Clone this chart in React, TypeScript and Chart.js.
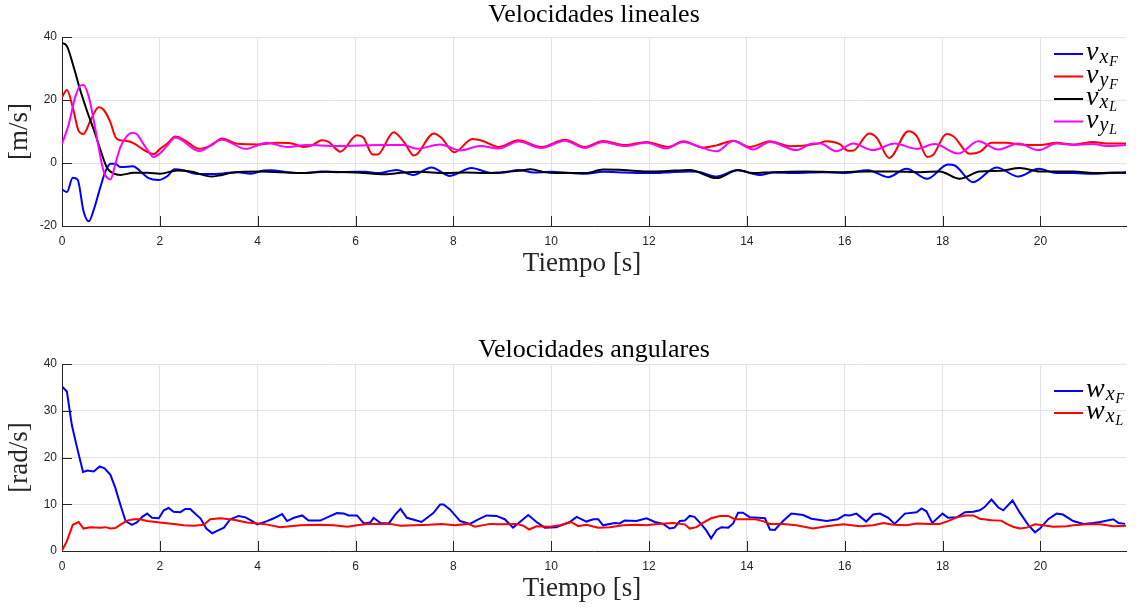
import React, { useEffect, useRef } from 'react';
import { Chart, registerables } from 'chart.js';

Chart.register(...registerables);

// ---------- data ----------
const xTickValues = [0, 2, 4, 6, 8, 10, 12, 14, 16, 18, 20];
const xMax = 21.75;
const yTicksTop = [-20, 0, 20, 40];
const yTicksBottom = [0, 10, 20, 30, 40];

type P = [number, number];

// Velocidades lineales
const vxF: P[] = [[0,-8.4],[0.1,-9.2],[0.22,-4.7],[0.32,-5.3],[0.44,-15.3],[0.55,-18.5],[0.65,-14.8],[0.78,-7.9],[0.89,-2.6],[0.99,-0.2],[1.09,-0.2],[1.19,-1.3],[1.33,-1.2],[1.45,-1.0],[1.6,-2.6],[1.76,-4.7],[1.97,-5.4],[2.15,-4.2],[2.3,-2.0],[2.5,-2.4],[2.73,-3.4],[3.0,-3.5],[3.3,-3.3],[3.59,-2.9],[3.86,-3.4],[4.12,-2.4],[4.27,-2.3],[4.6,-2.9],[5.0,-3.2],[5.3,-2.7],[5.6,-2.9],[6.0,-2.8],[6.2,-2.8],[6.46,-3.2],[6.84,-2.2],[7.18,-3.8],[7.55,-1.4],[7.93,-4.1],[8.37,-1.6],[8.78,-3.2],[9.05,-3.0],[9.33,-2.2],[9.65,-3.0],[10.0,-2.8],[10.4,-3.2],[10.7,-3.4],[11.06,-2.8],[11.5,-3.0],[11.95,-3.2],[12.12,-3.2],[12.45,-2.9],[12.83,-2.7],[13.0,-2.8],[13.38,-4.3],[13.8,-2.3],[14.26,-3.8],[14.55,-3.0],[15.0,-3.2],[15.55,-2.9],[15.97,-3.2],[16.48,-2.3],[16.89,-4.5],[17.26,-1.8],[17.69,-5.0],[18.11,-0.5],[18.25,-0.8],[18.62,-6.1],[19.1,-1.4],[19.55,-4.3],[19.96,-1.8],[20.33,-3.2],[20.67,-3.2],[21.08,-3.4],[21.4,-3.2],[21.75,-3.2]];

const vyF: P[] = [[0,20.9],[0.1,23.2],[0.22,17.7],[0.34,10.2],[0.44,9.2],[0.58,13.4],[0.75,17.7],[0.85,16.9],[0.99,12.9],[1.09,8.3],[1.19,7.2],[1.33,7.0],[1.47,6.2],[1.6,4.9],[1.77,3.3],[1.87,2.8],[2.0,4.4],[2.15,6.2],[2.32,8.4],[2.55,6.8],[2.8,4.5],[3.05,5.6],[3.27,7.8],[3.58,6.1],[4.05,5.9],[4.4,6.4],[4.67,6.3],[4.94,5.1],[5.1,5.5],[5.31,7.2],[5.45,6.7],[5.69,3.6],[6.03,8.8],[6.16,8.1],[6.35,2.7],[6.45,2.7],[6.78,9.8],[7.0,6.5],[7.19,2.4],[7.25,2.7],[7.6,9.4],[7.75,8.1],[8.02,3.4],[8.39,7.6],[8.6,7.0],[8.92,5.1],[9.33,7.2],[9.8,5.1],[10.28,7.4],[10.69,5.1],[11.06,7.0],[11.5,5.7],[11.95,6.7],[12.39,5.1],[12.7,6.9],[13.1,4.9],[13.38,5.6],[13.72,7.1],[14.06,5.1],[14.47,6.9],[14.88,5.3],[15.43,6.1],[15.63,6.9],[15.9,6.0],[16.07,3.9],[16.17,3.9],[16.5,9.4],[16.65,8.1],[16.91,1.6],[17.3,10.1],[17.47,8.6],[17.69,1.9],[17.81,2.6],[18.08,9.2],[18.22,8.5],[18.56,2.9],[18.77,3.6],[19.0,6.4],[19.3,6.4],[19.58,5.9],[19.99,5.7],[20.33,6.4],[20.67,5.9],[21.08,6.7],[21.35,6.2],[21.75,6.2]];

const vxL: P[] = [[0,38.1],[0.1,37.1],[0.24,30.4],[0.375,23],[0.51,16.6],[0.68,9.2],[0.78,4.4],[0.92,-1.5],[1.06,-3.4],[1.19,-3.8],[1.47,-3.1],[1.75,-3.1],[2.0,-3.4],[2.35,-2.4],[2.63,-2.7],[3.06,-4.3],[3.2,-4.0],[3.5,-3.0],[4.05,-2.7],[4.86,-3.2],[5.4,-2.8],[6.0,-3.0],[6.6,-3.6],[7.0,-3.0],[7.29,-2.8],[7.84,-3.2],[8.25,-3.0],[8.66,-3.2],[9.0,-2.9],[9.33,-2.5],[9.58,-2.0],[9.85,-2.9],[10.1,-3.2],[10.7,-3.2],[11.06,-2.1],[11.47,-2.2],[11.95,-2.7],[12.3,-2.6],[12.83,-2.2],[13.38,-4.8],[13.82,-2.2],[14.12,-3.2],[14.53,-2.9],[15.2,-2.7],[15.9,-2.9],[16.44,-2.7],[17.0,-2.7],[17.54,-2.9],[17.94,-2.7],[18.35,-5.0],[18.76,-2.7],[19.17,-2.5],[19.58,-1.6],[19.99,-2.7],[20.67,-2.7],[21.08,-3.2],[21.75,-2.9]];

const vyL: P[] = [[0,6.0],[0.14,12.4],[0.27,20.9],[0.375,24.6],[0.44,24.8],[0.55,20.9],[0.65,13.4],[0.75,4.9],[0.85,-2.6],[0.99,-5.2],[1.09,-0.4],[1.19,4.9],[1.33,8.6],[1.43,9.6],[1.53,9.1],[1.67,5.9],[1.77,3.6],[1.87,1.9],[2.0,3.0],[2.15,5.5],[2.32,8.1],[2.8,3.8],[3.27,7.4],[3.75,4.5],[4.19,6.4],[4.6,5.1],[5.01,5.7],[5.6,5.4],[6.57,5.7],[6.98,5.7],[7.25,4.5],[7.73,5.9],[8.14,4.0],[8.55,5.4],[8.92,4.6],[9.33,6.8],[9.8,4.8],[10.28,7.1],[10.69,4.8],[11.06,6.7],[11.5,5.4],[11.95,6.4],[12.35,4.6],[12.7,6.7],[13.04,5.1],[13.38,3.7],[13.72,7.0],[14.13,4.3],[14.47,6.7],[15.01,4.1],[15.35,6.2],[15.5,6.2],[15.83,3.7],[16.17,6.2],[16.58,4.1],[17.02,6.2],[17.47,4.5],[17.84,6.0],[18.32,3.0],[18.73,6.9],[19.14,4.3],[19.55,6.2],[19.96,4.1],[20.33,6.2],[20.67,5.7],[21.08,6.0],[21.35,5.4],[21.75,5.7]];

// Velocidades angulares
const wxF: P[] = [[0,35.2],[0.1,34.1],[0.2,27],[0.31,22],[0.43,16.9],[0.52,17.2],[0.65,17.0],[0.77,18.1],[0.87,17.7],[0.99,16.3],[1.09,13.5],[1.19,10],[1.3,6.4],[1.43,5.6],[1.53,6.1],[1.64,7.3],[1.74,8.0],[1.84,7.1],[1.98,7.0],[2.08,8.7],[2.18,9.2],[2.28,8.4],[2.42,8.3],[2.52,9.0],[2.62,9.0],[2.73,7.9],[2.83,7.0],[2.95,4.8],[3.07,3.8],[3.17,4.3],[3.31,5.0],[3.44,6.8],[3.61,7.5],[3.75,7.2],[3.89,6.4],[3.99,5.7],[4.19,6.4],[4.33,7.0],[4.5,7.9],[4.6,6.4],[4.74,7.1],[4.91,7.6],[5.04,6.5],[5.28,6.5],[5.49,7.5],[5.62,8.1],[5.76,8.0],[5.86,7.6],[6.03,7.6],[6.17,5.9],[6.3,6.1],[6.37,7.1],[6.51,6.0],[6.68,5.9],[6.82,7.9],[6.92,9.0],[7.05,7.1],[7.35,6.2],[7.59,8.1],[7.73,9.95],[7.8,9.95],[7.93,8.9],[8.14,6.4],[8.34,5.8],[8.48,6.6],[8.68,7.6],[8.88,7.5],[9.05,6.8],[9.22,5.0],[9.36,6.2],[9.53,7.7],[9.7,6.2],[9.87,5.0],[10.1,5.1],[10.38,6.2],[10.52,7.3],[10.72,6.3],[10.86,6.8],[10.96,6.8],[11.06,5.5],[11.3,6.0],[11.4,5.9],[11.5,6.5],[11.74,6.4],[11.95,7.0],[12.12,6.2],[12.29,5.8],[12.42,4.8],[12.52,5.0],[12.63,6.4],[12.73,6.5],[12.83,7.5],[12.93,7.3],[13.07,5.7],[13.17,4.4],[13.27,2.7],[13.38,4.5],[13.48,5.1],[13.62,5.0],[13.72,5.9],[13.82,8.2],[13.92,8.2],[14.06,7.2],[14.23,7.1],[14.37,7.0],[14.47,4.6],[14.57,4.5],[14.74,6.4],[14.91,8.0],[15.15,7.7],[15.32,6.9],[15.63,6.4],[15.86,6.8],[16.0,7.7],[16.1,7.6],[16.24,8.0],[16.44,6.3],[16.58,7.8],[16.72,8.0],[16.89,7.1],[17.02,5.8],[17.23,8.0],[17.47,8.3],[17.57,9.1],[17.67,8.5],[17.79,6.0],[18.0,8.0],[18.11,7.1],[18.29,7.2],[18.46,8.3],[18.63,8.4],[18.76,8.7],[18.86,9.4],[19.0,11.0],[19.14,9.3],[19.24,8.7],[19.43,10.8],[19.58,8.2],[19.75,5.6],[19.89,4.0],[19.99,4.8],[20.16,6.8],[20.33,8.0],[20.46,7.8],[20.67,6.4],[20.88,5.8],[21.08,6.0],[21.22,6.2],[21.49,6.8],[21.6,6.0],[21.73,5.8]];

const wxL: P[] = [[0,0.1],[0.1,2.1],[0.22,5.6],[0.34,6.2],[0.44,4.8],[0.58,5.1],[0.78,5.0],[0.89,5.1],[0.99,4.8],[1.09,4.9],[1.19,5.6],[1.33,6.5],[1.47,6.8],[1.6,6.8],[1.74,6.4],[2.0,6.1],[2.28,5.8],[2.49,5.5],[2.69,5.4],[2.9,5.6],[3.03,6.8],[3.24,7.0],[3.51,6.7],[3.78,6.1],[4.12,5.8],[4.46,5.1],[4.87,5.5],[5.28,5.6],[5.55,5.5],[5.83,5.2],[6.03,5.5],[6.24,5.8],[6.51,5.8],[6.71,5.8],[6.92,5.4],[7.2,5.5],[7.5,5.6],[7.76,5.8],[8.03,5.5],[8.3,5.8],[8.44,5.2],[8.75,5.8],[8.96,5.7],[9.3,5.8],[9.43,5.4],[9.55,4.6],[9.7,5.3],[9.97,5.2],[10.18,5.5],[10.41,6.2],[10.55,5.3],[10.72,5.6],[10.96,5.0],[11.2,5.1],[11.47,5.5],[11.74,5.6],[11.95,5.5],[12.12,5.7],[12.49,6.0],[12.73,5.7],[12.83,4.8],[12.97,5.1],[13.1,6.0],[13.27,7.0],[13.45,7.5],[13.62,7.5],[13.75,6.8],[14.0,6.8],[14.17,6.8],[14.33,6.4],[14.47,5.8],[14.74,5.8],[15.01,5.5],[15.35,4.8],[15.63,5.3],[15.97,5.7],[16.31,5.3],[16.58,5.5],[16.79,6.0],[17.0,5.6],[17.26,5.5],[17.47,5.9],[17.74,5.8],[17.94,5.8],[18.11,6.4],[18.29,7.2],[18.46,7.6],[18.63,7.6],[18.76,6.9],[19.0,6.6],[19.2,6.5],[19.31,5.8],[19.44,5.2],[19.58,4.8],[19.72,5.0],[19.89,5.7],[20.06,5.5],[20.26,5.2],[20.54,5.3],[20.67,5.5],[20.94,5.7],[21.22,5.7],[21.49,5.3],[21.75,5.4]];

// ---------- styling ----------
const W = 1142;
const H = 306;
const TEXT = '#262626';
const GRID = '#e3e3e3';
const SERIF = '"Liberation Serif", "Times New Roman", serif';
const SANS = '"Liberation Sans", Arial, sans-serif';

type Entry = { color: string; base: string; sub: string; subsub: string };

type PanelCfg = {
  series: { data: P[]; color: string }[];
  entries: Entry[];
  legendRows: number[];
  yMin: number;
  yMax: number;
  yStep: number;
  yTicks: number[];
  title: string;
  titleBaseline: number;
  yLabel: string;
  padTop: number;
  xAxisH: number;
  smooth: boolean;
};

function decorPlugin(cfg: PanelCfg) {
  return {
    id: 'decor',
    beforeDatasetsDraw(chart: any) {
      const { ctx, chartArea: a, scales } = chart;
      ctx.save();
      ctx.strokeStyle = TEXT;
      ctx.lineWidth = 1;
      ctx.beginPath();
      for (const t of xTickValues) {
        const px = Math.round(scales.x.getPixelForValue(t)) + 0.5;
        ctx.moveTo(px, a.bottom);
        ctx.lineTo(px, a.bottom - 10);
      }
      for (const v of cfg.yTicks) {
        const py = Math.round(scales.y.getPixelForValue(v)) + 0.5;
        ctx.moveTo(a.left, py);
        ctx.lineTo(a.left + 10, py);
      }
      ctx.stroke();
      ctx.restore();
    },
    afterDraw(chart: any) {
      const { ctx, chartArea: a } = chart;
      const cx = (a.left + a.right) / 2;
      ctx.save();
      // title
      ctx.fillStyle = '#000';
      ctx.font = `26px ${SERIF}`;
      ctx.textAlign = 'center';
      ctx.textBaseline = 'alphabetic';
      ctx.fillText(cfg.title, cx, cfg.titleBaseline);
      // x label
      ctx.fillStyle = TEXT;
      ctx.font = `27px ${SERIF}`;
      ctx.textBaseline = 'middle';
      ctx.fillText('Tiempo [s]', cx - 12, a.bottom + 38);
      // y label
      ctx.save();
      ctx.translate(20, (a.top + a.bottom) / 2);
      ctx.rotate(-Math.PI / 2);
      ctx.fillText(cfg.yLabel, 0, 0);
      ctx.restore();
      // legend
      ctx.textAlign = 'left';
      ctx.textBaseline = 'alphabetic';
      cfg.entries.forEach((e, i) => {
        const y = cfg.legendRows[i];
        const x0 = a.right - 72;
        ctx.strokeStyle = e.color;
        ctx.lineWidth = 2;
        ctx.beginPath();
        ctx.moveTo(x0, y);
        ctx.lineTo(x0 + 29, y);
        ctx.stroke();
        ctx.fillStyle = '#000';
        let x = x0 + 32;
        ctx.font = `italic 28px ${SERIF}`;
        ctx.fillText(e.base, x, y + 6);
        x += ctx.measureText(e.base).width + 1;
        ctx.font = `italic 20px ${SERIF}`;
        ctx.fillText(e.sub, x, y + 9);
        x += ctx.measureText(e.sub).width + 1;
        ctx.font = `italic 14px ${SERIF}`;
        ctx.fillText(e.subsub, x, y + 12);
      });
      ctx.restore();
    },
  };
}

function Panel({ cfg }: { cfg: PanelCfg }) {
  const ref = useRef<HTMLCanvasElement>(null);
  useEffect(() => {
    if (!ref.current) return;
    const n = cfg.series.length;
    const chart = new Chart(ref.current, {
      type: 'line',
      data: {
        datasets: cfg.series.map((s, i) => ({
          data: s.data.map(([x, y]) => ({ x, y })),
          borderColor: s.color,
          backgroundColor: s.color,
          borderWidth: 2,
          pointRadius: 0,
          fill: false,
          cubicInterpolationMode: cfg.smooth ? ('monotone' as const) : ('default' as const),
          tension: 0,
          order: n - i,
        })),
      },
      options: {
        animation: false,
        responsive: false,
        events: [],
        layout: { padding: { top: cfg.padTop, right: 16, bottom: 0, left: 0 } },
        plugins: { legend: { display: false }, title: { display: false }, tooltip: { enabled: false } },
        scales: {
          x: {
            type: 'linear',
            min: 0,
            max: xMax,
            afterBuildTicks: (scale: any) => {
              scale.ticks = xTickValues.map((v) => ({ value: v }));
            },
            afterFit: (scale: any) => {
              scale.height = cfg.xAxisH;
            },
            grid: { color: GRID, drawTicks: false, lineWidth: 1 },
            border: { display: true, color: TEXT, width: 1 },
            ticks: { color: TEXT, font: { family: SANS, size: 12 }, padding: 8, maxRotation: 0, autoSkip: false },
          },
          y: {
            type: 'linear',
            min: cfg.yMin,
            max: cfg.yMax,
            afterFit: (scale: any) => {
              scale.width = 62;
            },
            grid: { color: GRID, drawTicks: false, lineWidth: 1 },
            border: { display: true, color: TEXT, width: 1 },
            ticks: { stepSize: cfg.yStep, color: TEXT, font: { family: SANS, size: 12 }, padding: 5 },
          },
        },
      },
      plugins: [decorPlugin(cfg)],
    } as any);
    return () => chart.destroy();
  }, [cfg]);
  return <canvas ref={ref} width={W} height={H} style={{ display: 'block', width: W, height: H }} />;
}

const topCfg: PanelCfg = {
  series: [
    { data: vxF, color: '#0000ff' },
    { data: vyF, color: '#ff0000' },
    { data: vxL, color: '#000000' },
    { data: vyL, color: '#ff00ff' },
  ],
  entries: [
    { color: '#0000ff', base: 'v', sub: 'x', subsub: 'F' },
    { color: '#ff0000', base: 'v', sub: 'y', subsub: 'F' },
    { color: '#000000', base: 'v', sub: 'x', subsub: 'L' },
    { color: '#ff00ff', base: 'v', sub: 'y', subsub: 'L' },
  ],
  legendRows: [54, 76.5, 99, 121.5],
  yMin: -20,
  yMax: 40,
  yStep: 20,
  yTicks: yTicksTop,
  title: 'Velocidades lineales',
  titleBaseline: 22,
  yLabel: '[m/s]',
  padTop: 37,
  xAxisH: 80,
  smooth: true,
};

const bottomCfg: PanelCfg = {
  series: [
    { data: wxF, color: '#0000ff' },
    { data: wxL, color: '#ff0000' },
  ],
  entries: [
    { color: '#0000ff', base: 'w', sub: 'x', subsub: 'F' },
    { color: '#ff0000', base: 'w', sub: 'x', subsub: 'L' },
  ],
  legendRows: [85, 107],
  yMin: 0,
  yMax: 40,
  yStep: 10,
  yTicks: yTicksBottom,
  title: 'Velocidades angulares',
  titleBaseline: 51,
  yLabel: '[rad/s]',
  padTop: 58,
  xAxisH: 61,
  smooth: false,
};

export default function App() {
  return (
    <div style={{ position: 'fixed', left: 0, top: 0, width: W, height: 2 * H, background: '#fff' }}>
      <Panel cfg={topCfg} />
      <Panel cfg={bottomCfg} />
    </div>
  );
}
